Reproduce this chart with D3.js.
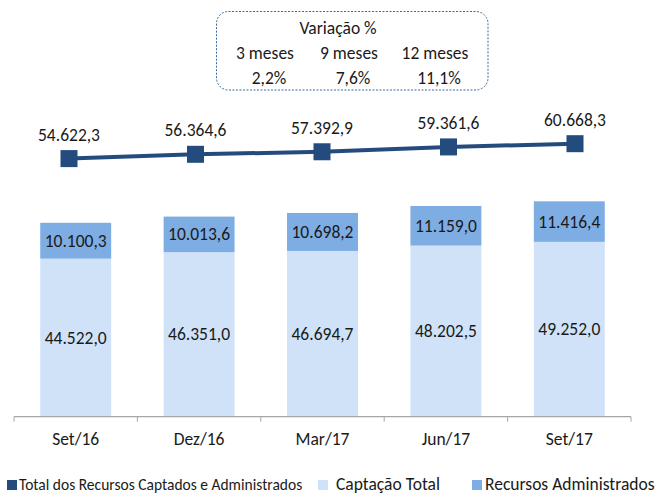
<!DOCTYPE html>
<head>
  <meta charset="utf-8">
  <script src="https://cdnjs.cloudflare.com/ajax/libs/d3/7.8.5/d3.min.js"></script>
</head>

<style>
body {
  margin: 0;
  background-color: #fff;
}
svg text {
  font-family: Carlito, Lato, sans-serif;
  fill: #1a1a1a;
}
</style>

<body>
  <svg id='chart' width='658' height='493'></svg>
</body>

<script>

var categories = ['Set/16', 'Dez/16', 'Mar/17', 'Jun/17', 'Set/17'];
var captacao = [44522.0, 46351.0, 46694.7, 48202.5, 49252.0];
var administrados = [10100.3, 10013.6, 10698.2, 11159.0, 11416.4];
var total = [54622.3, 56364.6, 57392.9, 59361.6, 60668.3];

var varTitle = 'Variação %';
var varPeriods = ['3 meses', '9 meses', '12 meses'];
var varValues = ['2,2%', '7,6%', '11,1%'];

var legendLabels = ['Total dos Recursos Captados e Administrados', 'Captação Total', 'Recursos Administrados'];

var cLine = '#234b7e', cLight = '#d0e2f8', cDark = '#7eade4';
var fs = '17.5px';

var fmt = function(v) {
  var s = v.toFixed(1).split('.');
  return s[0].replace(/\B(?=(\d{3})+(?!\d))/g, '.') + ',' + s[1];
};

var svg = d3.select('#chart');

// bars on primary axis, line on secondary
var x = d3.scaleBand().domain(categories).range([14, 631]).paddingInner(0.425).paddingOuter(0.2125);
var x2 = d3.scalePoint().domain(categories).range([69, 575]);
var y = d3.scaleLinear().domain([0, 80000]).range([416.7, 132.7]);
var y2 = d3.scaleLinear().domain([-50000, 65000]).range([416.7, 133]);

var rows = categories.map(function(c, i) {
  return {cat: c, cap: captacao[i], adm: administrados[i], tot: total[i]};
});

var g = svg.append('g');

g.selectAll('rect.cap')
  .data(rows).enter().append('rect')
    .attr('class', 'cap')
    .attr('x', function(d) { return x(d.cat); })
    .attr('width', x.bandwidth())
    .attr('y', function(d) { return y(d.cap); })
    .attr('height', function(d) { return y(0) - y(d.cap); })
    .attr('fill', cLight);

g.selectAll('rect.adm')
  .data(rows).enter().append('rect')
    .attr('class', 'adm')
    .attr('x', function(d) { return x(d.cat); })
    .attr('width', x.bandwidth())
    .attr('y', function(d) { return y(d.cap + d.adm); })
    .attr('height', function(d) { return y(d.cap) - y(d.cap + d.adm); })
    .attr('fill', cDark);

g.selectAll('text.cap')
  .data(rows).enter().append('text')
    .attr('x', function(d) { return x(d.cat) + x.bandwidth() / 2; })
    .attr('y', function(d) { return (y(d.cap) + y(0)) / 2 + 6; })
    .attr('text-anchor', 'middle')
    .style('font-size', fs)
    .text(function(d) { return fmt(d.cap); });

g.selectAll('text.adm')
  .data(rows).enter().append('text')
    .attr('x', function(d) { return x(d.cat) + x.bandwidth() / 2; })
    .attr('y', function(d) { return (y(d.cap) + y(d.cap + d.adm)) / 2 + 6; })
    .attr('text-anchor', 'middle')
    .style('font-size', fs)
    .text(function(d) { return fmt(d.adm); });

// x axis
var axis = svg.append('g').attr('transform', 'translate(0,' + y(0) + ')');
axis.append('line').attr('x1', 14).attr('x2', 631).attr('stroke', '#a6a6a6').attr('stroke-width', 1.2);
var ticks = categories.map(function(c) { return x(c) - x.step() * x.paddingInner() / 2; });
ticks.push(631);
axis.selectAll('line.tick')
  .data(ticks).enter().append('line')
    .attr('x1', function(d) { return d; }).attr('x2', function(d) { return d; })
    .attr('y1', 0).attr('y2', 5)
    .attr('stroke', '#a6a6a6');
axis.selectAll('text')
  .data(categories).enter().append('text')
    .attr('x', function(d) { return x(d) + x.bandwidth() / 2; })
    .attr('y', 28.5)
    .attr('text-anchor', 'middle')
    .style('font-size', fs)
    .text(function(d) { return d; });

// line series
var line = d3.line().x(function(d) { return x2(d.cat); }).y(function(d) { return y2(d.tot); });
svg.append('path').datum(rows)
  .attr('d', line)
  .attr('fill', 'none')
  .attr('stroke', cLine)
  .attr('stroke-width', 4);

svg.selectAll('rect.mark')
  .data(rows).enter().append('rect')
    .attr('x', function(d) { return x2(d.cat) - 8.5; })
    .attr('y', function(d) { return y2(d.tot) - 8.5; })
    .attr('width', 17).attr('height', 17)
    .attr('fill', cLine);

svg.selectAll('text.tot')
  .data(rows).enter().append('text')
    .attr('x', function(d) { return x2(d.cat); })
    .attr('y', function(d) { return y2(d.tot) - 18; })
    .attr('text-anchor', 'middle')
    .style('font-size', fs)
    .text(function(d) { return fmt(d.tot); });

// variation box
var box = svg.append('g');
box.append('rect')
  .attr('x', 216.5).attr('y', 11.5).attr('width', 271.5).attr('height', 78.5)
  .attr('rx', 12)
  .attr('fill', 'none')
  .attr('stroke', '#3d6a99')
  .attr('stroke-dasharray', '2,1.5');
box.append('text')
  .attr('x', 338).attr('y', 34)
  .attr('text-anchor', 'middle')
  .style('font-size', fs)
  .text(varTitle);
var colX = [265, 349, 435];
box.selectAll('text.per')
  .data(varPeriods).enter().append('text')
    .attr('x', function(d, i) { return colX[i]; })
    .attr('y', 59)
    .attr('text-anchor', 'middle')
    .style('font-size', fs)
    .text(function(d) { return d; });
box.selectAll('text.val')
  .data(varValues).enter().append('text')
    .attr('x', function(d, i) { return colX[i] + 4; })
    .attr('y', 83.5)
    .attr('text-anchor', 'middle')
    .style('font-size', fs)
    .text(function(d) { return d; });

// legend
var legX = [7, 318, 472];
var legSize = ['15.5px', fs, fs];
var legColor = [cLine, cLight, cDark];
var leg = svg.selectAll('g.leg')
  .data(legendLabels).enter().append('g')
    .attr('transform', function(d, i) { return 'translate(' + legX[i] + ',0)'; });
leg.append('rect')
  .attr('x', 0).attr('y', 480)
  .attr('width', 10).attr('height', 10)
  .attr('fill', function(d, i) { return legColor[i]; });
leg.append('text')
  .attr('x', function(d, i) { return i == 0 ? 12 : (i == 1 ? 18 : 13); })
  .attr('y', 489.5)
  .style('font-size', function(d, i) { return legSize[i]; })
  .text(function(d) { return d; });

</script>
